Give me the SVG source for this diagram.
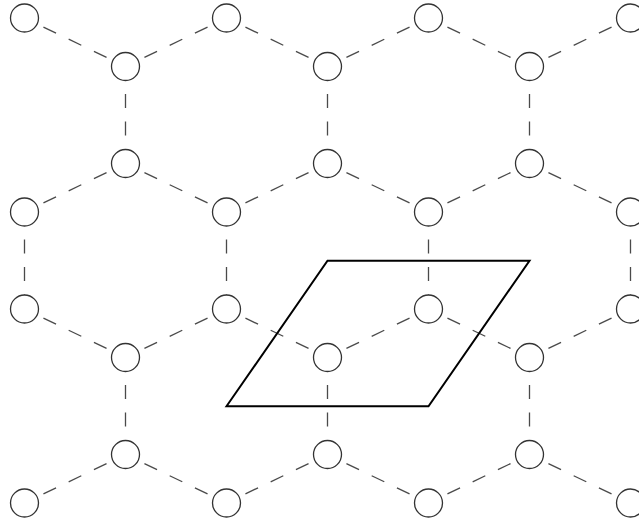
<svg xmlns="http://www.w3.org/2000/svg" width="639" height="523" viewBox="0 0 639 523">
<style>
.e{stroke:#4a4a4a;stroke-width:1.3;fill:none}
.s{stroke-dasharray:14 14;stroke-dashoffset:7}
.v{stroke-dasharray:14 13.5;stroke-dashoffset:0}
.n circle{fill:#fff;stroke:#333;stroke-width:1.3}
.cell{fill:none;stroke:#000;stroke-width:2;stroke-linejoin:miter}
</style>
<rect width="639" height="523" fill="#fff"/>
<g id="connectors" class="e">
<!-- rows 1-2 zigzag -->
<line class="s" x1="24.5" y1="18" x2="125.5" y2="66.5"/>
<line class="s" x1="125.5" y1="66.5" x2="226.5" y2="18"/>
<line class="s" x1="226.5" y1="18" x2="327.5" y2="66.5"/>
<line class="s" x1="327.5" y1="66.5" x2="428.5" y2="18"/>
<line class="s" x1="428.5" y1="18" x2="529.5" y2="66.5"/>
<line class="s" x1="529.5" y1="66.5" x2="630.5" y2="18"/>
<!-- verticals 2-3 -->
<line class="v" x1="125.5" y1="66.5" x2="125.5" y2="163.5"/>
<line class="v" x1="327.5" y1="66.5" x2="327.5" y2="163.5"/>
<line class="v" x1="529.5" y1="66.5" x2="529.5" y2="163.5"/>
<!-- rows 3-4 zigzag -->
<line class="s" x1="24.5" y1="212" x2="125.5" y2="163.5"/>
<line class="s" x1="125.5" y1="163.5" x2="226.5" y2="212"/>
<line class="s" x1="226.5" y1="212" x2="327.5" y2="163.5"/>
<line class="s" x1="327.5" y1="163.5" x2="428.5" y2="212"/>
<line class="s" x1="428.5" y1="212" x2="529.5" y2="163.5"/>
<line class="s" x1="529.5" y1="163.5" x2="630.5" y2="212"/>
<!-- verticals 4-5 -->
<line class="v" x1="24.5" y1="212" x2="24.5" y2="309"/>
<line class="v" x1="226.5" y1="212" x2="226.5" y2="309"/>
<line class="v" x1="428.5" y1="212" x2="428.5" y2="309"/>
<line class="v" x1="630.5" y1="212" x2="630.5" y2="309"/>
<!-- rows 5-6 zigzag -->
<line class="s" x1="24.5" y1="309" x2="125.5" y2="357.5"/>
<line class="s" x1="125.5" y1="357.5" x2="226.5" y2="309"/>
<line class="s" x1="226.5" y1="309" x2="327.5" y2="357.5"/>
<line class="s" x1="327.5" y1="357.5" x2="428.5" y2="309"/>
<line class="s" x1="428.5" y1="309" x2="529.5" y2="357.5"/>
<line class="s" x1="529.5" y1="357.5" x2="630.5" y2="309"/>
<!-- verticals 6-7 -->
<line class="v" x1="125.5" y1="357.5" x2="125.5" y2="454.5"/>
<line class="v" x1="327.5" y1="357.5" x2="327.5" y2="454.5"/>
<line class="v" x1="529.5" y1="357.5" x2="529.5" y2="454.5"/>
<!-- rows 7-8 zigzag -->
<line class="s" x1="24.5" y1="503" x2="125.5" y2="454.5"/>
<line class="s" x1="125.5" y1="454.5" x2="226.5" y2="503"/>
<line class="s" x1="226.5" y1="503" x2="327.5" y2="454.5"/>
<line class="s" x1="327.5" y1="454.5" x2="428.5" y2="503"/>
<line class="s" x1="428.5" y1="503" x2="529.5" y2="454.5"/>
<line class="s" x1="529.5" y1="454.5" x2="630.5" y2="503"/>
</g>
<g class="n">
<g id="n1a"><circle cx="24.5" cy="18" r="14"/></g>
<g id="n1c"><circle cx="226.5" cy="18" r="14"/></g>
<g id="n1e"><circle cx="428.5" cy="18" r="14"/></g>
<g id="n1g"><circle cx="630.5" cy="18" r="14"/></g>
<g id="n2b"><circle cx="125.5" cy="66.5" r="14"/></g>
<g id="n2d"><circle cx="327.5" cy="66.5" r="14"/></g>
<g id="n2f"><circle cx="529.5" cy="66.5" r="14"/></g>
<g id="n3b"><circle cx="125.5" cy="163.5" r="14"/></g>
<g id="n3d"><circle cx="327.5" cy="163.5" r="14"/></g>
<g id="n3f"><circle cx="529.5" cy="163.5" r="14"/></g>
<g id="n4a"><circle cx="24.5" cy="212" r="14"/></g>
<g id="n4c"><circle cx="226.5" cy="212" r="14"/></g>
<g id="n4e"><circle cx="428.5" cy="212" r="14"/></g>
<g id="n4g"><circle cx="630.5" cy="212" r="14"/></g>
<g id="n5a"><circle cx="24.5" cy="309" r="14"/></g>
<g id="n5c"><circle cx="226.5" cy="309" r="14"/></g>
<g id="n5e"><circle cx="428.5" cy="309" r="14"/></g>
<g id="n5g"><circle cx="630.5" cy="309" r="14"/></g>
<g id="n6b"><circle cx="125.5" cy="357.5" r="14"/></g>
<g id="n6d"><circle cx="327.5" cy="357.5" r="14"/></g>
<g id="n6f"><circle cx="529.5" cy="357.5" r="14"/></g>
<g id="n7b"><circle cx="125.5" cy="454.5" r="14"/></g>
<g id="n7d"><circle cx="327.5" cy="454.5" r="14"/></g>
<g id="n7f"><circle cx="529.5" cy="454.5" r="14"/></g>
<g id="n8a"><circle cx="24.5" cy="503" r="14"/></g>
<g id="n8c"><circle cx="226.5" cy="503" r="14"/></g>
<g id="n8e"><circle cx="428.5" cy="503" r="14"/></g>
<g id="n8g"><circle cx="630.5" cy="503" r="14"/></g>
</g>
<g id="unit-cell">
<polygon class="cell" points="226.5,406.25 327.5,260.75 529.5,260.75 428.5,406.25"/>
</g>
</svg>
